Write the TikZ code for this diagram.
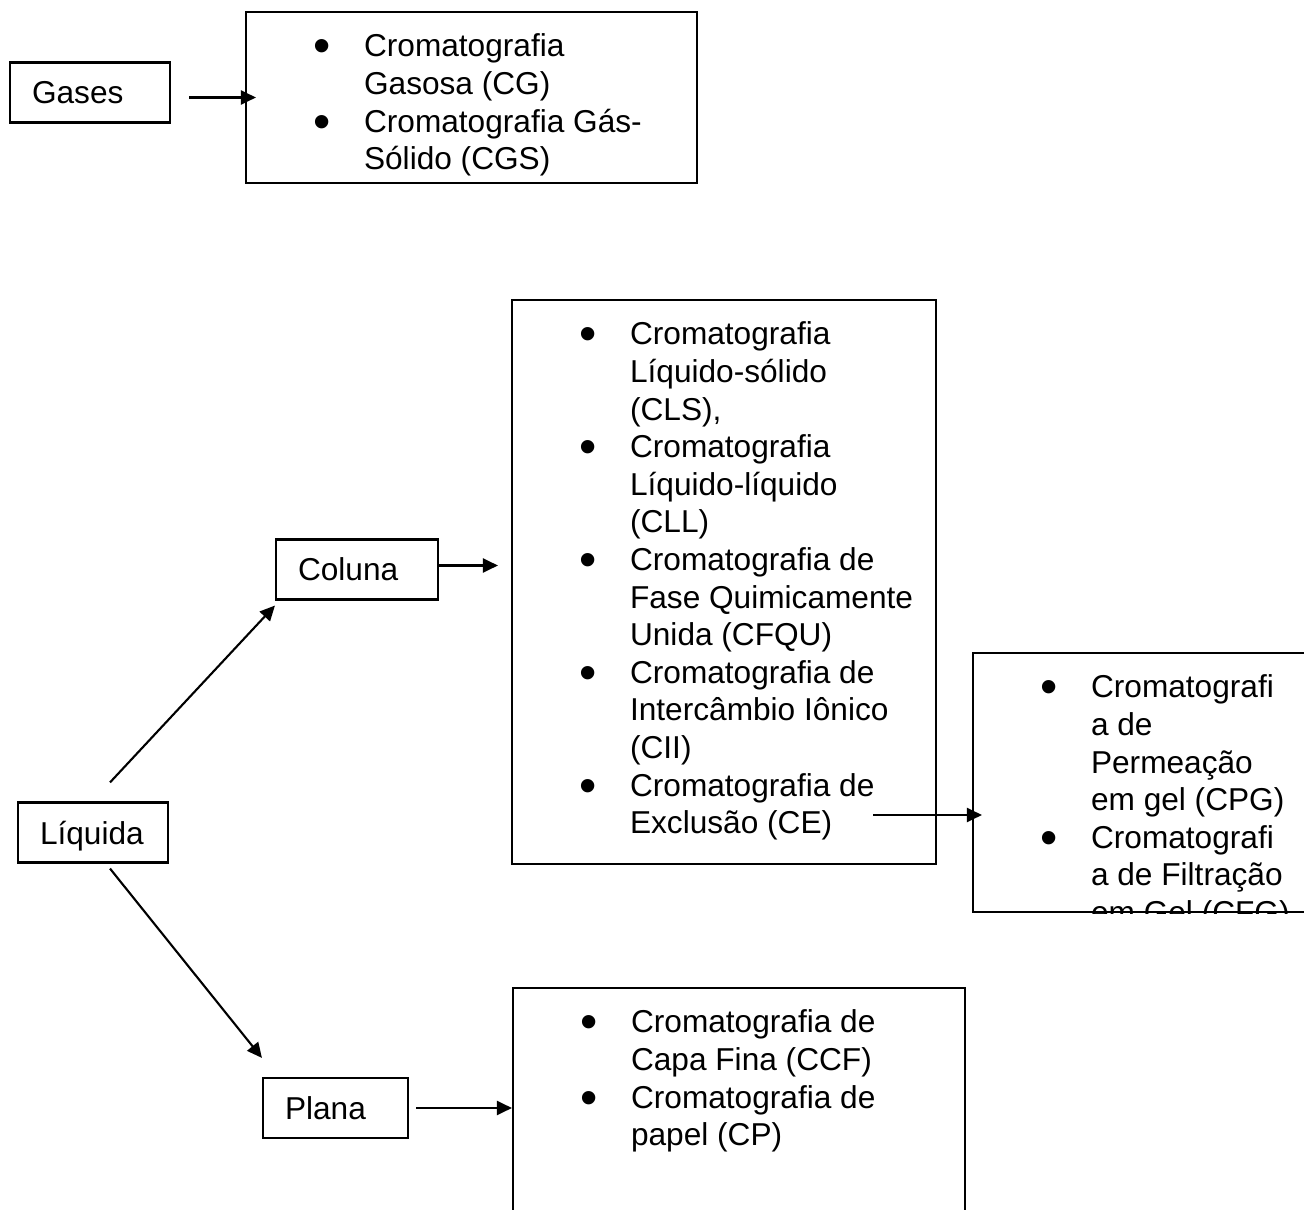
\documentclass[tikz,border=0pt]{standalone}
\usepackage{fontspec}
\setmainfont{Liberation Sans}
\usetikzlibrary{arrows.meta}

\begin{document}
\begin{tikzpicture}[>={Triangle[length=0.15cm,width=0.14cm]}, line width=0.6pt,
  font=\fontsize{9}{10.7}\selectfont,
  termbox/.style={draw, align=left, text width=#1, inner xsep=0.22cm, inner ysep=0pt, minimum height=0.6cm, text depth=0pt},
  listbox/.style={draw, inner sep=0pt},
  entry/.style={anchor=base west, align=left, inner sep=0pt},
  itemdot/.style={anchor=base, inner sep=0pt, yshift=-0.06cm, font=\fontsize{14}{14}\selectfont}]
  \useasboundingbox (0,0) rectangle (13.04,-12.10);

  % left column
  \node[termbox=1.16cm] (gases) at (0.90,-0.925) {Gases};
  \node[termbox=1.18cm] (coluna) at (3.57,-5.695) {Coluna};
  \node[termbox=1.06cm] (liquida) at (0.93,-8.325) {Líquida};
  \node[termbox=1.01cm] (plana) at (3.355,-11.08) {Plana};

  % boxes with the lists
  \node[listbox, minimum width=4.51cm, minimum height=1.71cm] (gasbox) at (4.715,-0.975) {};
  \node[listbox, minimum width=4.24cm, minimum height=5.64cm] (colbox) at (7.24,-5.82) {};
  \node[listbox, minimum width=3.37cm, minimum height=2.59cm] (cpgbox) at (11.415,-7.825) {};
  \node[listbox, minimum width=4.52cm, minimum height=2.42cm] (plbox) at (7.39,-11.09) {};

  % bullets sit on the first line, texts on their last line
  \node[itemdot] (g1) at (3.22,-0.57) {\textbullet};
  \node[entry] (gt1) at (3.63,-0.946) {Cromatografia\\Gasosa (CG)};
  \node[itemdot] (g2) at (3.22,-1.322) {\textbullet};
  \node[entry] (gt2) at (3.63,-1.698) {Cromatografia Gás-\\Sólido (CGS)};

  \node[itemdot] (c1) at (5.88,-3.45) {\textbullet};
  \node[entry] (ct1) at (6.29,-4.202) {Cromatografia\\Líquido-sólido\\(CLS),};
  \node[itemdot] (c2) at (5.88,-4.578) {\textbullet};
  \node[entry] (ct2) at (6.29,-5.33) {Cromatografia\\Líquido-líquido\\(CLL)};
  \node[itemdot] (c3) at (5.88,-5.706) {\textbullet};
  \node[entry] (ct3) at (6.29,-6.458) {Cromatografia de\\Fase Quimicamente\\Unida (CFQU)};
  \node[itemdot] (c4) at (5.88,-6.834) {\textbullet};
  \node[entry] (ct4) at (6.29,-7.586) {Cromatografia de\\Intercâmbio Iônico\\(CII)};
  \node[itemdot] (c5) at (5.88,-7.962) {\textbullet};
  \node[entry] (ct5) at (6.29,-8.338) {Cromatografia de\\Exclusão (CE)};

  \begin{scope}
    \clip (cpgbox.north west) rectangle (cpgbox.south east);
    \node[itemdot] (e1) at (10.49,-6.98) {\textbullet};
    \node[entry] (et1) at (10.90,-8.108) {Cromatografi\\a de\\Permeação\\em gel (CPG)};
    \node[itemdot] (e2) at (10.49,-8.484) {\textbullet};
    \node[entry] (et2) at (10.90,-9.236) {Cromatografi\\a de Filtração\\em Gel (CFG)};
  \end{scope}

  \node[itemdot] (p1) at (5.89,-10.33) {\textbullet};
  \node[entry] (pt1) at (6.30,-10.706) {Cromatografia de\\Capa Fina (CCF)};
  \node[itemdot] (p2) at (5.89,-11.082) {\textbullet};
  \node[entry] (pt2) at (6.30,-11.458) {Cromatografia de\\papel (CP)};

  % arrows
  \coordinate (cefrom) at (8.73,-8.15);
  \draw[->, shorten <=0.18cm, shorten >=-0.11cm] (gases.east |- gasbox.west) -- (gasbox.west);
  \draw[->, shorten >=0.13cm] ([yshift=0.04cm]coluna.east) -- ([yshift=0.04cm]coluna.east -| colbox.west);
  \draw[->, shorten >=-0.1cm] (cefrom) -- (cefrom -| cpgbox.west);
  \draw[->, shorten <=0.07cm] (plana.east) -- (plana.east -| plbox.west);
  \draw[->] ([xshift=0.17cm, yshift=0.19cm]liquida.north) -- ([yshift=-0.05cm]coluna.south west);
  \draw[->] ([xshift=0.17cm, yshift=-0.05cm]liquida.south) -- ([yshift=0.19cm]plana.north west);
\end{tikzpicture}
\end{document}
